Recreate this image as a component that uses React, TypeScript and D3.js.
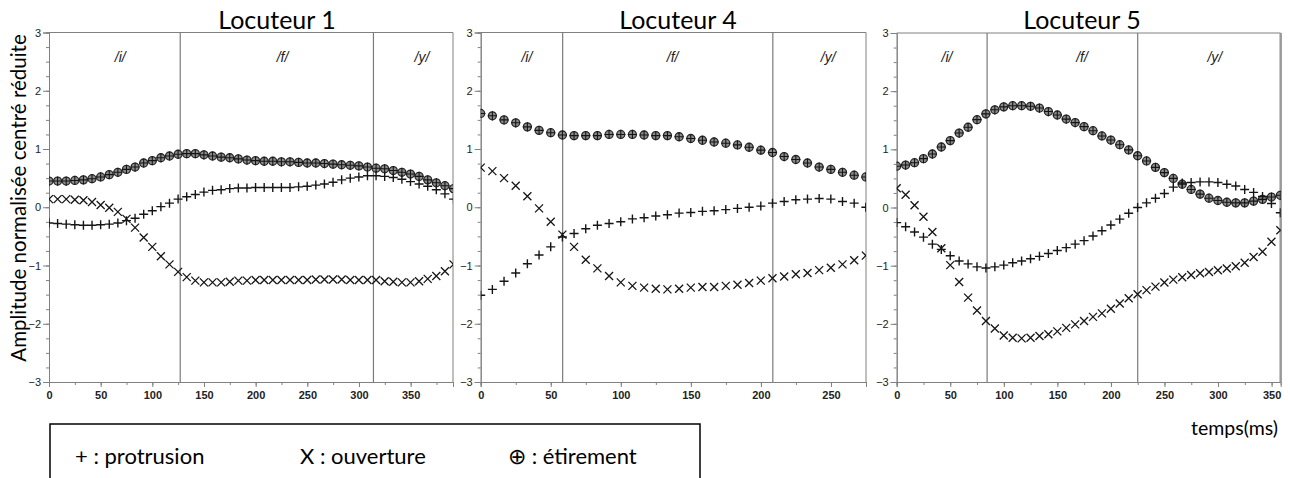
import { useEffect, useRef } from 'react'
import * as d3 from 'd3'

// sampling interval of the articulatory data (ms)
const STEP = 8.33

const TITLES = ['Locuteur 1', 'Locuteur 4', 'Locuteur 5']
const X_MAX = [391, 275, 358.5]
const X_TICKS = [
  [0, 50, 100, 150, 200, 250, 300, 350],
  [0, 50, 100, 150, 200, 250],
  [0, 50, 100, 150, 200, 250, 300, 350],
]
const Y_TICKS = [-3, -2, -1, 0, 1, 2, 3]
const BOUNDARIES = [[127, 314], [58.5, 208.5], [84.4, 225]]
const PHONEMES = ['/i/', '/f/', '/y/']
const PHONEME_AT = [[69, 226, 361], [33, 137, 248], [47, 173, 297]]

// Locuteur 1
const L1_PROTRUSION = [-0.27, -0.28, -0.29, -0.30, -0.31, -0.31, -0.30, -0.29, -0.27, -0.23, -0.19, -0.12, -0.06, 0.01, 0.07, 0.14, 0.18, 0.22, 0.26, 0.29, 0.30, 0.32, 0.33, 0.33, 0.34, 0.34, 0.34, 0.34, 0.34, 0.35, 0.36, 0.38, 0.40, 0.43, 0.47, 0.50, 0.52, 0.54, 0.54, 0.53, 0.51, 0.48, 0.44, 0.40, 0.36, 0.30, 0.23, 0.14]
const L1_OUVERTURE = [0.14, 0.14, 0.14, 0.13, 0.12, 0.09, 0.04, -0.01, -0.08, -0.20, -0.35, -0.52, -0.68, -0.84, -0.98, -1.11, -1.20, -1.26, -1.29, -1.29, -1.29, -1.28, -1.26, -1.26, -1.25, -1.25, -1.25, -1.25, -1.25, -1.25, -1.25, -1.24, -1.24, -1.24, -1.24, -1.25, -1.25, -1.25, -1.25, -1.27, -1.28, -1.29, -1.29, -1.27, -1.23, -1.18, -1.10, -0.98]
const L1_ETIREMENT = [0.45, 0.45, 0.45, 0.46, 0.47, 0.49, 0.52, 0.56, 0.60, 0.65, 0.69, 0.76, 0.80, 0.85, 0.88, 0.91, 0.92, 0.92, 0.90, 0.88, 0.86, 0.85, 0.83, 0.81, 0.80, 0.79, 0.79, 0.78, 0.78, 0.77, 0.76, 0.76, 0.75, 0.74, 0.73, 0.72, 0.71, 0.69, 0.67, 0.66, 0.63, 0.60, 0.57, 0.53, 0.47, 0.42, 0.37, 0.32]

// Locuteur 4
const L4_PROTRUSION = [-1.51, -1.41, -1.27, -1.13, -0.97, -0.82, -0.68, -0.51, -0.45, -0.37, -0.31, -0.28, -0.25, -0.20, -0.18, -0.15, -0.13, -0.10, -0.09, -0.07, -0.06, -0.04, -0.02, 0.00, 0.02, 0.07, 0.10, 0.13, 0.14, 0.15, 0.14, 0.10, 0.07, 0.00]
const L4_OUVERTURE = [0.68, 0.62, 0.50, 0.37, 0.19, -0.02, -0.25, -0.47, -0.68, -0.90, -1.05, -1.18, -1.29, -1.35, -1.38, -1.40, -1.41, -1.40, -1.38, -1.37, -1.37, -1.35, -1.33, -1.30, -1.26, -1.22, -1.19, -1.15, -1.13, -1.08, -1.04, -0.98, -0.91, -0.83]
const L4_ETIREMENT = [1.61, 1.57, 1.50, 1.45, 1.38, 1.32, 1.28, 1.24, 1.23, 1.23, 1.23, 1.25, 1.25, 1.25, 1.24, 1.23, 1.23, 1.21, 1.18, 1.15, 1.12, 1.10, 1.07, 1.03, 0.98, 0.94, 0.87, 0.82, 0.76, 0.69, 0.65, 0.60, 0.55, 0.52]

// Locuteur 5
const L5_PROTRUSION = [-0.26, -0.33, -0.42, -0.51, -0.63, -0.72, -0.83, -0.92, -0.97, -1.02, -1.04, -1.02, -0.99, -0.95, -0.92, -0.88, -0.84, -0.79, -0.74, -0.69, -0.63, -0.57, -0.49, -0.40, -0.30, -0.20, -0.10, 0.00, 0.08, 0.16, 0.24, 0.35, 0.42, 0.43, 0.44, 0.44, 0.43, 0.40, 0.37, 0.31, 0.26, 0.19, 0.07, -0.09]
const L5_OUVERTURE = [0.33, 0.22, 0.04, -0.16, -0.42, -0.70, -0.99, -1.28, -1.55, -1.77, -1.95, -2.08, -2.20, -2.24, -2.25, -2.24, -2.21, -2.18, -2.13, -2.07, -2.01, -1.95, -1.88, -1.82, -1.74, -1.65, -1.56, -1.49, -1.42, -1.36, -1.29, -1.24, -1.20, -1.16, -1.13, -1.11, -1.08, -1.05, -1.01, -0.95, -0.85, -0.76, -0.59, -0.39]
const L5_ETIREMENT = [0.71, 0.73, 0.77, 0.84, 0.92, 1.04, 1.15, 1.28, 1.38, 1.51, 1.61, 1.68, 1.73, 1.75, 1.75, 1.74, 1.71, 1.65, 1.59, 1.52, 1.46, 1.39, 1.32, 1.23, 1.16, 1.08, 0.99, 0.89, 0.80, 0.69, 0.60, 0.50, 0.40, 0.31, 0.23, 0.16, 0.12, 0.09, 0.08, 0.08, 0.11, 0.14, 0.18, 0.21]

const SERIES = [
  { protrusion: L1_PROTRUSION, ouverture: L1_OUVERTURE, etirement: L1_ETIREMENT },
  { protrusion: L4_PROTRUSION, ouverture: L4_OUVERTURE, etirement: L4_ETIREMENT },
  { protrusion: L5_PROTRUSION, ouverture: L5_OUVERTURE, etirement: L5_ETIREMENT },
]

const LEGEND = ['+ : protrusion', 'X : ouverture', '\u2295 : étirement']

// pixel layout of each panel
const LAYOUT = [
  { left: 49, right: 453, top: 32.5, bottom: 382, titleX: 277 },
  { left: 480.7, right: 866, top: 32.5, bottom: 382, titleX: 678 },
  { left: 896.7, right: 1280.7, top: 33, bottom: 382, titleX: 1082 },
]

const W = 1290
const H = 478
const AXIS_COLOR = '#808080'
const MARK = '#151515'
const TICK_FONT = "'Liberation Sans Narrow', 'Liberation Sans', Arial, sans-serif"
const TEXT_FONT = "Lato, 'Open Sans', sans-serif"

export default function App() {
  const svgRef = useRef<SVGSVGElement>(null)

  useEffect(() => {
    document.body.style.margin = '0'
    if (!svgRef.current) return
    const svg = d3.select(svgRef.current)
    svg.selectAll('*').remove()

    LAYOUT.forEach((box, p) => {
      const x = d3.scaleLinear().domain([0, X_MAX[p]]).range([box.left, box.right])
      const y = d3.scaleLinear().domain([-3, 3]).range([box.bottom, box.top])
      const g = svg.append('g')

      // title
      g.append('text')
        .attr('x', box.titleX)
        .attr('y', 29)
        .attr('text-anchor', 'middle')
        .attr('font-family', TEXT_FONT)
        .attr('font-size', 25)
        .attr('fill', '#000')
        .text(TITLES[p])

      // frame top / right
      g.append('line')
        .attr('x1', box.left).attr('x2', box.right)
        .attr('y1', box.top).attr('y2', box.top)
        .attr('stroke', AXIS_COLOR)
      g.append('line')
        .attr('x1', box.right).attr('x2', box.right)
        .attr('y1', box.top).attr('y2', box.bottom)
        .attr('stroke', p === 2 ? '#9a9a9a' : AXIS_COLOR)
        .attr('stroke-width', p === 2 ? 2.5 : 1)

      // minor y ticks
      const minorY = d3.range(-3, 3.001, 0.25)
      g.append('g')
        .attr('transform', `translate(${box.left},0)`)
        .call(d3.axisLeft(y).tickValues(minorY).tickSize(3).tickFormat(() => ''))
      // major y ticks
      const yAx = g.append('g')
        .attr('transform', `translate(${box.left},0)`)
        .call(d3.axisLeft(y).tickValues(Y_TICKS).tickSize(6).tickPadding(2).tickFormat(d3.format('d')))
      yAx.selectAll('text')
        .attr('font-family', TICK_FONT)
        .attr('font-size', 11)
        .attr('fill', '#222')

      // x ticks
      const minorX = d3.range(0, X_MAX[p] + 0.1, 25)
      g.append('g')
        .attr('transform', `translate(0,${box.bottom})`)
        .call(d3.axisBottom(x).tickValues(minorX).tickSize(3).tickFormat(() => ''))
      const xAx = g.append('g')
        .attr('transform', `translate(0,${box.bottom})`)
        .call(d3.axisBottom(x).tickValues(X_TICKS[p]).tickSize(5).tickPadding(4).tickFormat(d3.format('d')))
      xAx.selectAll('text')
        .attr('font-family', TICK_FONT)
        .attr('font-size', 11)
        .attr('font-weight', 'bold')
        .attr('fill', '#222')

      g.selectAll('.domain, .tick line').attr('stroke', AXIS_COLOR)

      // segment boundaries
      BOUNDARIES[p].forEach(b => {
        g.append('line')
          .attr('x1', x(b)).attr('x2', x(b))
          .attr('y1', box.top).attr('y2', box.bottom)
          .attr('stroke', '#7a7a7a')
          .attr('stroke-width', 1.2)
      })

      // phoneme labels
      PHONEMES.forEach((ph, k) => {
        g.append('text')
          .attr('x', x(PHONEME_AT[p][k]))
          .attr('y', 62)
          .attr('text-anchor', 'middle')
          .attr('font-family', TICK_FONT)
          .attr('font-style', 'italic')
          .attr('font-size', 14)
          .attr('fill', '#222')
          .text(ph)
      })

      // clip for markers
      const clipId = `clip-${p}`
      svg.append('clipPath').attr('id', clipId)
        .append('rect')
        .attr('x', box.left).attr('y', box.top)
        .attr('width', box.right - box.left).attr('height', box.bottom - box.top)
      const marks = g.append('g').attr('clip-path', `url(#${clipId})`)

      const s = SERIES[p]

      // étirement (circle with plus)
      const et = marks.append('g')
      s.etirement.forEach((v, i) => {
        const cx = x(i * STEP)
        const cy = y(v)
        et.append('circle')
          .attr('cx', cx).attr('cy', cy).attr('r', 4)
          .attr('fill', '#8c8c8c').attr('stroke', '#2a2a2a').attr('stroke-width', 1.3)
        et.append('path')
          .attr('d', `M${cx - 4.6},${cy}H${cx + 4.6}M${cx},${cy - 4.6}V${cy + 4.6}`)
          .attr('stroke', MARK).attr('stroke-width', 1.1)
      })

      // protrusion (+)
      marks.append('g')
        .selectAll('path')
        .data(s.protrusion)
        .join('path')
        .attr('d', (v, i) => {
          const cx = x(i * STEP)
          const cy = y(v)
          return `M${cx - 4.5},${cy}H${cx + 4.5}M${cx},${cy - 4.5}V${cy + 4.5}`
        })
        .attr('stroke', MARK)
        .attr('stroke-width', 1.4)

      // ouverture (x)
      marks.append('g')
        .selectAll('path')
        .data(s.ouverture)
        .join('path')
        .attr('d', (v, i) => {
          const cx = x(i * STEP)
          const cy = y(v)
          return `M${cx - 4},${cy - 4}L${cx + 4},${cy + 4}M${cx - 4},${cy + 4}L${cx + 4},${cy - 4}`
        })
        .attr('stroke', MARK)
        .attr('stroke-width', 1.3)
    })

    // y axis label
    svg.append('text')
      .attr('transform', 'translate(26,198) rotate(-90)')
      .attr('text-anchor', 'middle')
      .attr('font-family', TEXT_FONT)
      .attr('font-size', 20.5)
      .attr('fill', '#000')
      .text('Amplitude normalisée centré réduite')

    // x axis label
    svg.append('text')
      .attr('x', 1278)
      .attr('y', 435)
      .attr('text-anchor', 'end')
      .attr('font-family', TEXT_FONT)
      .attr('font-size', 19.5)
      .attr('fill', '#000')
      .text('temps(ms)')

    // legend box
    svg.append('rect')
      .attr('x', 50).attr('y', 424)
      .attr('width', 650).attr('height', 70)
      .attr('fill', 'none')
      .attr('stroke', '#000')
      .attr('stroke-width', 1.5)
    const legendX = [75, 300, 508]
    LEGEND.forEach((t, i) => {
      svg.append('text')
        .attr('x', legendX[i])
        .attr('y', 464)
        .attr('font-family', TEXT_FONT)
        .attr('font-size', 22)
        .attr('fill', '#000')
        .text(t)
    })
  }, [])

  return <svg ref={svgRef} width={W} height={H} style={{ display: 'block', background: '#fff' }} />
}
